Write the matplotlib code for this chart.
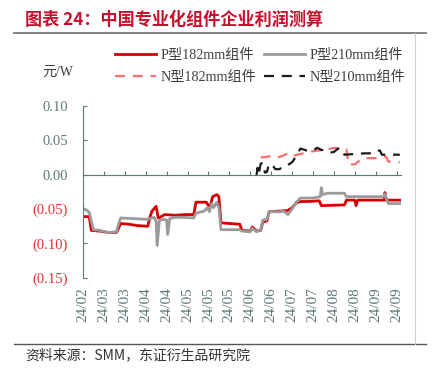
import matplotlib
matplotlib.use('Agg')
from matplotlib import pyplot as plt
from matplotlib.lines import Line2D
import numpy as np

# x = trading-day index (10 days between tick labels)
tick_labels = ['24/02', '24/03', '24/03', '24/04', '24/04', '24/05', '24/05', '24/05',
               '24/06', '24/06', '24/07', '24/07', '24/08', '24/08', '24/09', '24/09']

p182_x = [0, 3, 4, 8, 12, 16, 17, 18, 22, 26, 31, 32, 33, 35, 36, 38, 39, 44, 49, 53,
          54, 59, 60, 61, 62, 64, 65, 66, 70, 75, 76, 80, 81, 83, 85, 86, 88, 89, 94, 98,
          100, 102, 104, 108, 113, 114, 125, 126, 130, 130.6, 131.4, 144, 144.4, 145, 151.5]
p182_y = [-0.061, -0.061, -0.081, -0.082, -0.084, -0.084, -0.078, -0.071, -0.072, -0.074,
          -0.075, -0.062, -0.053, -0.046, -0.063, -0.060, -0.058, -0.059, -0.058, -0.058,
          -0.040, -0.040, -0.045, -0.044, -0.032, -0.029, -0.032, -0.070, -0.071, -0.072,
          -0.081, -0.082, -0.076, -0.082, -0.081, -0.069, -0.067, -0.054, -0.053, -0.052,
          -0.048, -0.041, -0.039, -0.039, -0.038, -0.045, -0.044, -0.037, -0.037, -0.045,
          -0.037, -0.037, -0.026, -0.037, -0.037]

p210_x = [0, 2, 3, 5, 8, 12, 16, 17, 18, 25, 31, 33, 34, 35, 35.5, 36.5, 38, 40, 40.5, 41.5,
          44, 48, 53, 54, 58, 59.5, 60.5, 61.5, 62.5, 64, 65, 66, 75, 76, 80, 81, 83, 85, 86,
          88, 89, 94, 96, 98, 100, 102, 104, 110, 113.5, 114, 114.6, 117, 125, 126, 140, 144,
          144.4, 146, 151.5]
p210_y = [-0.049, -0.052, -0.055, -0.080, -0.081, -0.084, -0.083, -0.072, -0.063, -0.064,
          -0.065, -0.063, -0.062, -0.068, -0.103, -0.067, -0.065, -0.066, -0.087, -0.064,
          -0.062, -0.062, -0.063, -0.056, -0.053, -0.048, -0.054, -0.042, -0.048, -0.040,
          -0.048, -0.080, -0.080, -0.082, -0.083, -0.078, -0.083, -0.080, -0.066, -0.065,
          -0.054, -0.054, -0.053, -0.058, -0.050, -0.040, -0.034, -0.034, -0.032, -0.019,
          -0.029, -0.027, -0.027, -0.032, -0.032, -0.032, -0.028, -0.042, -0.042]

n182_x = [85, 88, 90, 92, 96, 98, 100, 104, 108, 112, 116, 120, 124, 126, 127, 130, 132,
          134, 140, 142, 145, 146, 151.5]
n182_y = [0.025, 0.026, 0.027, 0.024, 0.028, 0.031, 0.027, 0.030, 0.033, 0.035, 0.036,
          0.039, 0.037, 0.037, 0.015, 0.015, 0.020, 0.024, 0.024, 0.027, 0.026, 0.019, 0.018]

n210_x = [83, 83.5, 84, 85, 86, 87, 88, 89, 91, 92, 94, 96, 98, 100, 102, 104, 106, 108,
          110, 112, 114, 116, 118, 120, 122, 124, 125, 130, 135, 138, 140, 142, 143, 151.5]
n210_y = [-0.001, 0.010, 0.000, 0.016, 0.017, 0.003, 0.004, 0.016, 0.012, 0.008, 0.008,
          0.013, 0.014, 0.018, 0.027, 0.038, 0.036, 0.034, 0.035, 0.039, 0.036, 0.035,
          0.032, 0.033, 0.038, 0.037, 0.029, 0.030, 0.031, 0.031, 0.035, 0.035, 0.029, 0.029]

y_ticks = [0.10, 0.05, 0.00, -0.05, -0.10, -0.15]

RED = '#d50000'
GRAY = '#9a9a9a'
PINK = '#ff6e6e'
BLACK = '#1a1a1a'
AXIS = '#5f7878'
SERIF = ['Liberation Serif', 'Noto Sans CJK SC']
CJK = ['Noto Sans CJK SC', 'DejaVu Sans']

fig = plt.figure(figsize=(4.39, 3.74), dpi=100)
ax = fig.add_axes([0.189, 0.257, 0.724, 0.46])

l1, = ax.plot(p182_x, p182_y, color=RED, lw=2.0, label='P型182mm组件')
l2, = ax.plot(p210_x, p210_y, color=GRAY, lw=2.0, label='P型210mm组件')
l3, = ax.plot(n182_x, n182_y, color=PINK, lw=1.6, dashes=(4.5, 3.5), label='N型182mm组件')
l4, = ax.plot(n210_x, n210_y, color=BLACK, lw=1.6, dashes=(4.5, 3.5), label='N型210mm组件')

ax.set_xlim(0, 152)
ax.set_ylim(-0.15, 0.10)

for s in ['top', 'right']:
    ax.spines[s].set_visible(False)
ax.spines['left'].set_color(AXIS)
ax.spines['bottom'].set_color(AXIS)
ax.spines['bottom'].set_position(('data', 0))

xt = np.arange(len(tick_labels)) * 10
ax.set_xticks(xt)
ax.tick_params(axis='x', direction='in', length=3, color=AXIS, labelbottom=False)
for x, lab in zip(xt, tick_labels):
    ax.text(x, -0.055, lab, transform=ax.get_xaxis_transform(), rotation=90,
            ha='center', va='top', fontsize=11, color=AXIS, family='Liberation Serif')

ax.set_yticks(y_ticks)
ylabs = ['%.2f' % v if v >= 0 else '(%.2f)' % abs(v) for v in y_ticks]
ax.set_yticklabels(ylabs, family='Liberation Serif', fontsize=10.5)
ax.tick_params(axis='y', direction='in', length=3, color=AXIS, pad=11)
for t, v in zip(ax.get_yticklabels(), y_ticks):
    t.set_color(AXIS if v >= 0 else '#e03030')

fig.text(0.132, 0.807, '元/W', family=SERIF, fontsize=10, color='#404040',
         ha='center', va='center')

# legend fills column-wise, so order handles to get P on the first row
leg = fig.legend([l1, l3, l2, l4], [l.get_label() for l in (l1, l3, l2, l4)],
                 loc='center', bbox_to_anchor=(0.592, 0.822), ncol=2, frameon=False,
                 prop={'family': SERIF, 'size': 10.2}, handlelength=2.9,
                 columnspacing=0.55, handletextpad=0.3, labelspacing=0.6)
for t in leg.get_texts():
    t.set_color('#404040')

fig.text(0.057, 0.947, '图表 24：中国专业化组件企业利润测算', family=CJK, fontsize=12.3,
         fontweight='bold', color='#c8102e', ha='left', va='center')
fig.add_artist(Line2D([0.032, 0.971], [0.912, 0.912], color='#777777', lw=1.3))
fig.add_artist(Line2D([0.032, 0.971], [0.080, 0.080], color='#555555', lw=1.0))
fig.add_artist(Line2D([0.945, 0.945], [0.080, 0.912], color='#d0d0d0', lw=0.8))
fig.text(0.057, 0.050, '资料来源：SMM，东证衍生品研究院', family=CJK, fontsize=10,
         color='#333333', ha='left', va='center')

fig.savefig('out.png', dpi=100)
